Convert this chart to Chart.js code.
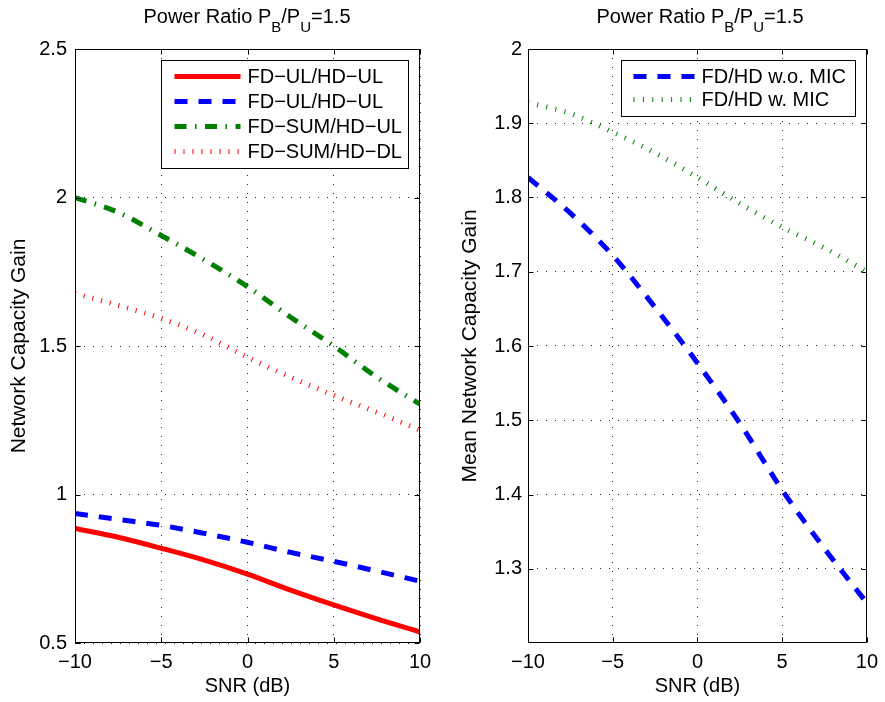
<!DOCTYPE html>
<html><head><meta charset="utf-8">
<script src="https://cdn.jsdelivr.net/npm/chart.js@4/dist/chart.umd.min.js"></script>
<style>
html,body{margin:0;padding:0;background:#fff;}
#wrap{position:relative;width:885px;height:702px;overflow:hidden;font-family:"Liberation Sans",Arial,sans-serif;}
.panel{position:absolute;top:0;}
.ttl{position:absolute;top:4px;font-size:20px;line-height:24px;color:#000;white-space:nowrap;transform:translateX(-50%);}
.ttl sub{font-size:15px;vertical-align:-9px;line-height:0;}
</style></head>
<body>
<div id="wrap">
  <canvas id="cL" class="panel" width="442" height="702" style="left:0px"></canvas>
  <canvas id="cR" class="panel" width="443" height="702" style="left:442px"></canvas>
  <div class="ttl" style="left:247px">Power Ratio P<sub>B</sub>/P<sub>U</sub>=1.5</div>
  <div class="ttl" style="left:700px">Power Ratio P<sub>B</sub>/P<sub>U</sub>=1.5</div>
</div>
<script>
// ---- data ----
const snr = [-10, -7.5, -5, -2.5, 0, 2.5, 5, 7.5, 10];
const xTicks = [-10, -5, 0, 5, 10];

const leftLabels = ['FD\u2212UL/HD\u2212UL', 'FD\u2212UL/HD\u2212UL', 'FD\u2212SUM/HD\u2212UL', 'FD\u2212SUM/HD\u2212DL'];
const fdUlHdUlSolid  = [0.886, 0.856, 0.819, 0.779, 0.732, 0.678, 0.628, 0.581, 0.537];
const fdUlHdUlDashed = [0.936, 0.916, 0.896, 0.869, 0.839, 0.805, 0.775, 0.742, 0.708];
const fdSumHdUl      = [2.000, 1.950, 1.872, 1.790, 1.700, 1.597, 1.500, 1.395, 1.304];
const fdSumHdDl      = [1.677, 1.637, 1.593, 1.536, 1.462, 1.395, 1.334, 1.277, 1.217];
const leftYTicks = [0.5, 1, 1.5, 2, 2.5];

const rightLabels = ['FD/HD w.o. MIC', 'FD/HD w. MIC'];
const fdHdWoMic = [1.827, 1.779, 1.722, 1.652, 1.577, 1.496, 1.406, 1.327, 1.254];
const fdHdWMic  = [1.928, 1.913, 1.888, 1.860, 1.827, 1.792, 1.760, 1.732, 1.700];
const rightYTicks = [1.3, 1.4, 1.5, 1.6, 1.7, 1.8, 1.9, 2];

// ---- helpers ----
const FONT = "'Liberation Sans', Arial, sans-serif";
const pts = arr => snr.map((x, i) => ({x: x, y: arr[i]}));
const fmtX = v => (v < 0 ? '\u2212' + Math.abs(v) : String(v));
const fmtY = v => String(Math.round(v * 10) / 10);

function ds(label, arr, color, dash) {
  return {label, data: pts(arr), borderColor: color, backgroundColor: color,
    borderWidth: 5, borderDash: dash, borderCapStyle: 'butt', pointRadius: 0,
    fill: false, cubicInterpolationMode: 'monotone'};
}

const framePlugin = {
  id: 'frameLegend',
  afterDatasetsDraw(chart, args, opts) {
    const {ctx, chartArea: a, scales: {x, y}} = chart;
    ctx.save();
    ctx.setLineDash([]);
    ctx.strokeStyle = '#000';
    ctx.lineWidth = 1;
    const L = Math.round(a.left) + 0.5, R = Math.round(a.right) - 0.5,
          T = Math.round(a.top) + 0.5, B = Math.round(a.bottom) - 0.5;
    ctx.strokeRect(L, T, R - L, B - T);
    const tl = 5;
    ctx.beginPath();
    x.ticks.forEach(t => {
      const px = Math.round(x.getPixelForValue(t.value)) + 0.5;
      ctx.moveTo(px, B); ctx.lineTo(px, B - tl);
      ctx.moveTo(px, T); ctx.lineTo(px, T + tl);
    });
    y.ticks.forEach(t => {
      const py = Math.round(y.getPixelForValue(t.value)) + 0.5;
      ctx.moveTo(L, py); ctx.lineTo(L + tl, py);
      ctx.moveTo(R, py); ctx.lineTo(R - tl, py);
    });
    ctx.stroke();

    // boxed legend
    const bx2 = R - opts.inset, bx1 = bx2 - opts.width;
    const by1 = T + opts.inset, by2 = by1 + opts.height;
    ctx.fillStyle = '#fff';
    ctx.fillRect(bx1, by1, bx2 - bx1, by2 - by1);
    ctx.strokeStyle = '#000';
    ctx.lineWidth = 1;
    ctx.strokeRect(bx1, by1, bx2 - bx1, by2 - by1);
    ctx.font = '20px ' + FONT;
    ctx.textBaseline = 'middle';
    ctx.textAlign = 'left';
    chart.data.datasets.forEach((d, i) => {
      const ry = by1 + opts.first + i * opts.rowH;
      ctx.save();
      ctx.strokeStyle = d.borderColor;
      ctx.lineWidth = d.borderWidth;
      ctx.lineCap = 'butt';
      ctx.setLineDash(d.borderDash || []);
      ctx.beginPath();
      ctx.moveTo(bx1 + opts.s1, ry);
      ctx.lineTo(bx1 + opts.s2, ry);
      ctx.stroke();
      ctx.restore();
      ctx.fillStyle = '#000';
      ctx.fillText(d.label, bx1 + opts.tx, ry + 1);
    });
    ctx.restore();
  }
};

function makeChart(id, datasets, cfg) {
  return new Chart(document.getElementById(id), {
    type: 'line',
    data: {datasets},
    plugins: [framePlugin],
    options: {
      responsive: false, animation: false, devicePixelRatio: 1,
      layout: {padding: {top: 49, right: cfg.padRight, left: 0, bottom: 0}},
      plugins: {legend: {display: false}, tooltip: {enabled: false}, title: {display: false},
        frameLegend: cfg.legend},
      scales: {
        x: {
          type: 'linear', min: -10, max: 10,
          afterBuildTicks: s => { s.ticks = xTicks.map(v => ({value: v})); },
          afterFit: s => { s.height = 59; },
          grid: {color: 'rgba(0,0,0,0.85)', lineWidth: 1, drawTicks: false},
          border: {display: false, dash: [1, 8]},
          ticks: {callback: fmtX, padding: 7, color: '#000', font: {size: 20, family: FONT}, maxRotation: 0},
          title: {display: true, text: 'SNR (dB)', color: '#000', font: {size: 20, family: FONT}, padding: {top: 0, bottom: 4}}
        },
        y: {
          type: 'linear', min: cfg.yMin, max: cfg.yMax,
          afterBuildTicks: s => { s.ticks = cfg.yTicks.map(v => ({value: v})); },
          afterFit: s => { s.width = cfg.yWidth; },
          grid: {color: 'rgba(0,0,0,0.85)', lineWidth: 1, drawTicks: false},
          border: {display: false, dash: [1, 8]},
          ticks: {callback: fmtY, padding: cfg.yPad, color: '#000', font: {size: 20, family: FONT}},
          title: {display: true, text: cfg.yTitle, color: '#000', font: {size: 21, family: FONT}, padding: {top: cfg.yTitlePad, bottom: 0}}
        }
      }
    }
  });
}

makeChart('cL', [
  ds(leftLabels[0], fdUlHdUlSolid, '#ff0000', []),
  ds(leftLabels[1], fdUlHdUlDashed, '#0000ff', [13, 11]),
  ds(leftLabels[2], fdSumHdUl, '#008000', [12, 8.5, 1.5, 8.5]),
  ds(leftLabels[3], fdSumHdDl, '#ff0000', [1, 8])
], {padRight: 22, yMin: 0.5, yMax: 2.5, yTicks: leftYTicks, yWidth: 75, yPad: 8,
    yTitle: 'Network Capacity Gain', yTitlePad: 7,
    legend: {inset: 11, width: 247, height: 108, first: 16, rowH: 25, s1: 13, s2: 79, tx: 86}});

makeChart('cR', [
  ds(rightLabels[0], fdHdWoMic, '#0000ff', [13, 11]),
  ds(rightLabels[1], fdHdWMic, '#008000', [1, 8.4])
], {padRight: 12, yMin: 1.2, yMax: 2, yTicks: rightYTicks, yWidth: 86, yPad: 6,
    yTitle: 'Mean Network Capacity Gain', yTitlePad: 16,
    legend: {inset: 11, width: 234, height: 56, first: 16, rowH: 23, s1: 12, s2: 73, tx: 80}});
</script>
</body></html>
